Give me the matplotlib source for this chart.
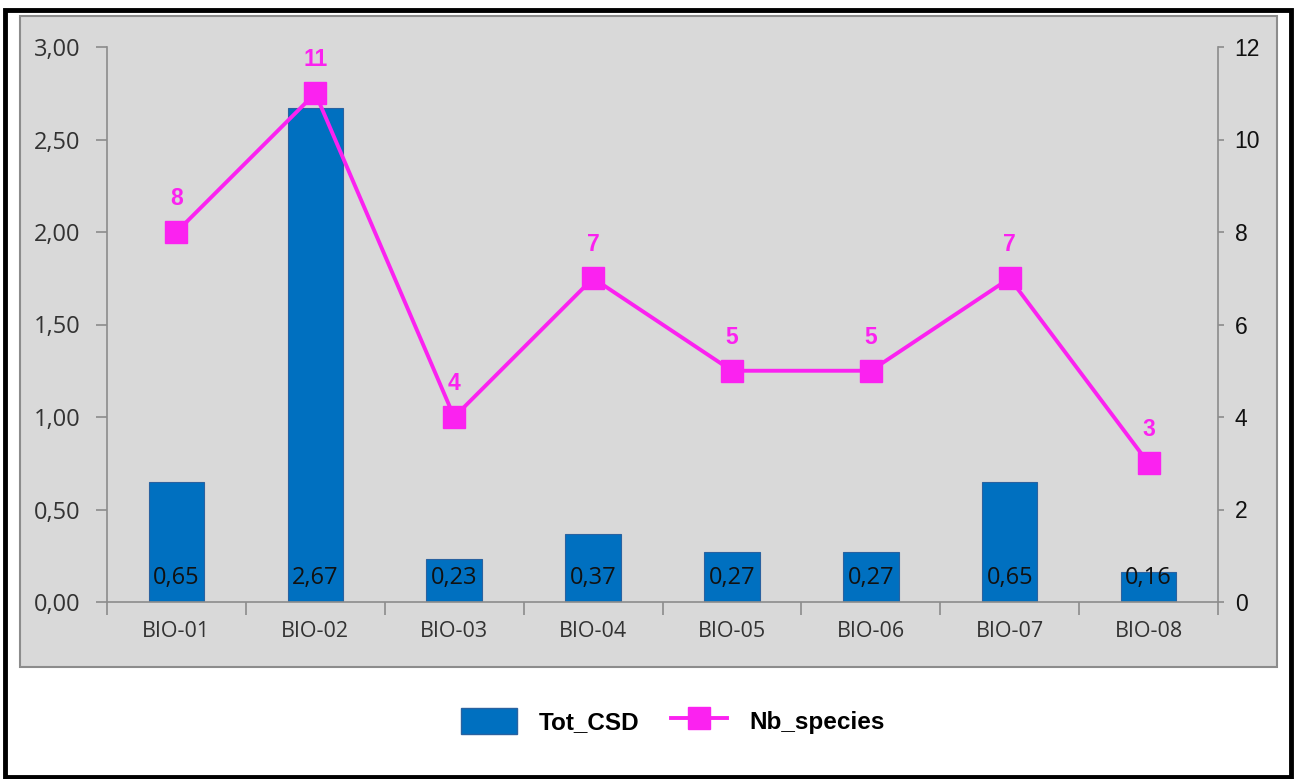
"""Tot_CSD bars with Nb_species line on a secondary axis."""

from matplotlib import pyplot as plt
from matplotlib.patches import Patch, Rectangle
from matplotlib.lines import Line2D
from matplotlib.ticker import FuncFormatter, FixedLocator
import numpy as np

sites = ["BIO-01", "BIO-02", "BIO-03", "BIO-04", "BIO-05", "BIO-06", "BIO-07", "BIO-08"]
tot_csd = [0.65, 2.67, 0.23, 0.37, 0.27, 0.27, 0.65, 0.16]
nb_species = [8, 11, 4, 7, 5, 5, 7, 3]

BAR_BLUE = "#0070c0"
MAGENTA = "#fb22f0"
GRID_GRAY = "#8c8c8c"


def comma(v, decimals=2):
    return f"{v:.{decimals}f}".replace(".", ",")


fig = plt.figure(figsize=(12.94, 7.79), dpi=100)

# grey chart area and black outer frame
fig.add_artist(Rectangle((20 / 1294, 1 - 667 / 779), 1257 / 1294, 651 / 779,
                         transform=fig.transFigure, facecolor="#d9d9d9",
                         edgecolor=GRID_GRAY, linewidth=1.5, zorder=0))
fig.add_artist(Rectangle((5 / 1294, 2 / 779), 1286 / 1294, 767 / 779,
                         transform=fig.transFigure, fill=False,
                         edgecolor="black", linewidth=3.5, zorder=10))

ax = fig.add_axes([107 / 1294, 1 - 602 / 779, 1111 / 1294, 555 / 779])
ax.set_facecolor("none")
x = np.arange(len(sites))

bars = ax.bar(x, tot_csd, width=0.4, color=BAR_BLUE, edgecolor="#2a62a0", linewidth=0.8)
for xi, v in zip(x, tot_csd):
    ax.annotate(comma(v), xy=(xi, 0), xytext=(0, 17), textcoords="offset points",
                ha="center", va="center", fontsize=17, family="Open Sans", color="#111111")

ax.set_xlim(-0.5, len(sites) - 0.5)
ax.set_ylim(0, 3)
ax.yaxis.set_major_locator(FixedLocator(np.arange(0, 3.01, 0.5)))
ax.yaxis.set_major_formatter(FuncFormatter(lambda v, _: comma(v)))
ax.set_xticks(x)
ax.set_xticklabels(sites, family="Open Sans", fontsize=15.5, color="#333333")
ax.set_xticks(np.arange(-0.5, len(sites), 1), minor=True)
ax.tick_params(axis="x", which="major", length=0, pad=14)
ax.tick_params(axis="x", which="minor", length=9, color=GRID_GRAY, width=1.2)
ax.tick_params(axis="y", length=8, color=GRID_GRAY, width=1.2, pad=11,
               labelsize=17, labelcolor="#333333")
for lbl in ax.get_yticklabels():
    lbl.set_family("Open Sans")

for side in ["top", "right"]:
    ax.spines[side].set_visible(False)
for side in ["left", "bottom"]:
    ax.spines[side].set_color(GRID_GRAY)
    ax.spines[side].set_linewidth(1.2)

ax2 = ax.twinx()
ax2.plot(x, nb_species, color=MAGENTA, linewidth=2.8, marker="s", markersize=16.5,
         markerfacecolor=MAGENTA, markeredgecolor=MAGENTA)
for xi, n in zip(x, nb_species):
    ax2.annotate(str(n), xy=(xi, n), xytext=(0, 24), textcoords="offset points",
                 ha="center", va="center", fontsize=16.5, fontweight="bold",
                 family="Liberation Sans", color=MAGENTA)
ax2.set_ylim(0, 12)
ax2.set_yticks(np.arange(0, 13, 2))
ax2.tick_params(axis="y", length=4, color=GRID_GRAY, width=1.2, pad=8,
                labelsize=16.5, labelcolor="#111111")
for lbl in ax2.get_yticklabels():
    lbl.set_family("Liberation Sans")
for side in ["top", "left", "bottom"]:
    ax2.spines[side].set_visible(False)
ax2.spines["right"].set_color(GRID_GRAY)
ax2.spines["right"].set_linewidth(1.2)

handles = [
    Patch(facecolor=BAR_BLUE, edgecolor="#2a62a0", label="Tot_CSD"),
    Line2D([], [], color=MAGENTA, linewidth=2.8, marker="s", markersize=16.5, label="Nb_species"),
]
fig.legend(handles=handles, loc="center", bbox_to_anchor=(673 / 1294, 1 - 721 / 779),
           ncol=2, frameon=False, handlelength=2.3, handleheight=1.3,
           handletextpad=0.9, columnspacing=1.3,
           prop={"family": "Liberation Sans", "weight": "bold", "size": 17.5})

fig.savefig("out.png", dpi=100)
